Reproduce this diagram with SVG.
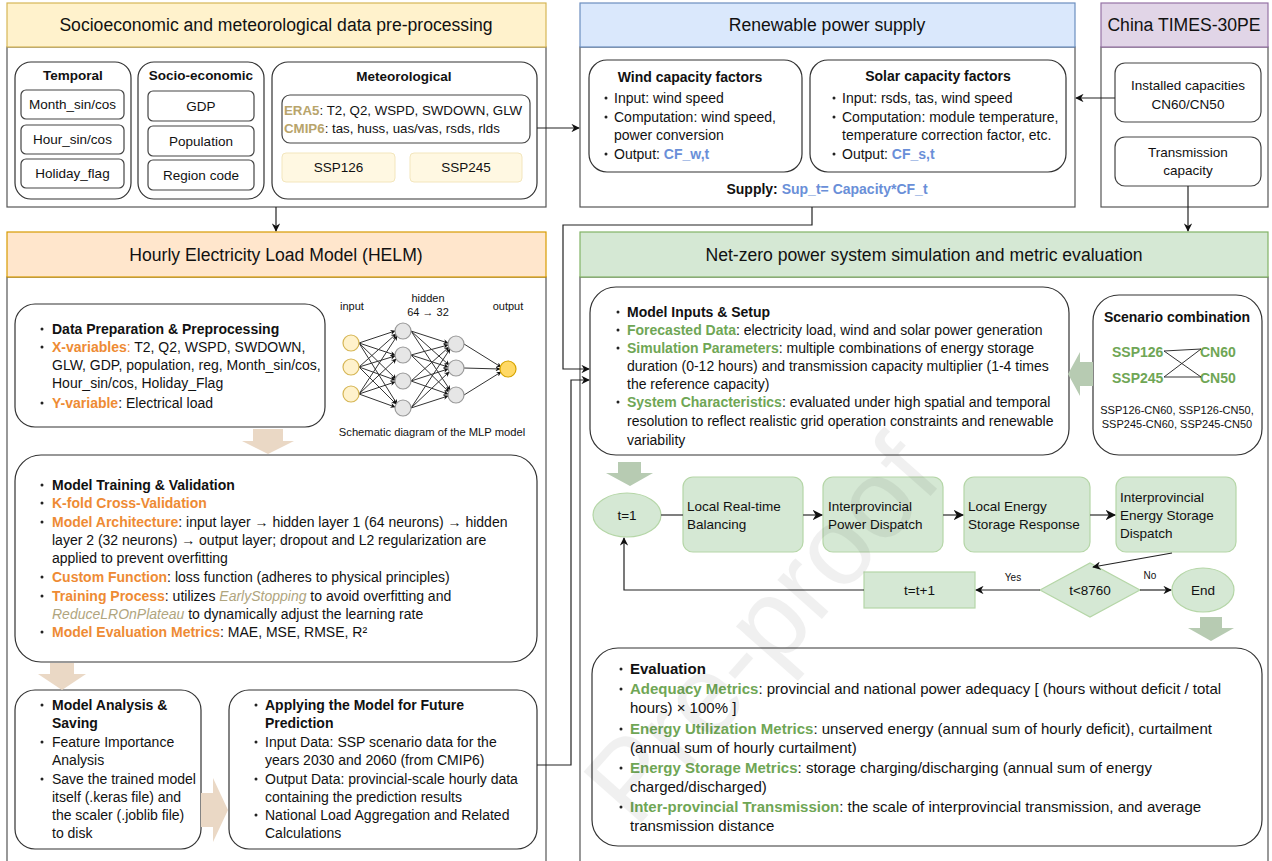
<svg xmlns="http://www.w3.org/2000/svg" width="1272" height="861" viewBox="0 0 1272 861">
<style>
text{font-family:"Liberation Sans",Arial,Helvetica,sans-serif;fill:#111}
.hd{font-size:17.6px;text-anchor:middle}
.t{font-size:13.5px}
.th{font-size:14px}
.ts{font-size:14px}
.te{font-size:15px}
.c{text-anchor:middle}
.b{font-weight:bold}
.box{fill:#fff;stroke:#444;stroke-width:1.2}
.body{fill:#fff;stroke:#555;stroke-width:1.2}
.rbox{fill:#fff;stroke:#333;stroke-width:1.2}
.fl{fill:#d5e8d4;stroke:#b5d6a7;stroke-width:1.2}
.ln{fill:none;stroke:#222;stroke-width:1.2}
.gl{fill:none;stroke:#555;stroke-width:1.5}
.or{fill:#ee8b34;font-weight:bold}
.ol{fill:#b8a46b;font-weight:bold}
.it{fill:#b0a57e;font-style:italic}
.gr{fill:#6fa655;font-weight:bold}
.bl{fill:#6a8fd8;font-weight:bold}
.dot{fill:#222}
.beige{fill:#ead8c5}
.garr{fill:#b7cbb2}
.mn{stroke:#333;stroke-width:1}
</style>
<defs>
<marker id="ah" viewBox="0 0 10 10" refX="9" refY="5" markerWidth="7" markerHeight="7" orient="auto"><path d="M0,0 L10,5 L0,10 L3,5 z" fill="#111"/></marker>
<marker id="sm" viewBox="0 0 10 10" refX="9" refY="5" markerWidth="5" markerHeight="5" orient="auto"><path d="M0,0 L10,5 L0,10 L3,5 z" fill="#111"/></marker>
</defs>

<!-- Panel 1 -->
<g id="panel-preproc">
<rect x="7" y="47" width="539" height="160" class="body"/>
<rect x="7" y="3" width="539" height="44" fill="#fff2cc" stroke="#d6b656" stroke-width="1.2"/>
<text x="276" y="31" class="hd">Socioeconomic and meteorological data pre-processing</text>
</g>
<g id="temporal">
<rect x="15" y="62" width="116" height="137" rx="16" class="rbox"/>
<text x="73" y="80" class="t b c">Temporal</text>
<rect x="21" y="90" width="103" height="29" rx="5" class="box"/>
<text x="72.5" y="109" class="t c">Month_sin/cos</text>
<rect x="21" y="125" width="103" height="29" rx="5" class="box"/>
<text x="72.5" y="144" class="t c">Hour_sin/cos</text>
<rect x="21" y="159" width="103" height="29" rx="5" class="box"/>
<text x="72.5" y="178" class="t c">Holiday_flag</text>
</g>
<g id="socioeconomic">
<rect x="138" y="62" width="126" height="137" rx="16" class="rbox"/>
<text x="201" y="80" class="t b c">Socio-economic</text>
<rect x="148" y="91" width="106" height="30" rx="5" class="box"/>
<text x="201" y="111" class="t c">GDP</text>
<rect x="148" y="126" width="106" height="30" rx="5" class="box"/>
<text x="201" y="146" class="t c">Population</text>
<rect x="148" y="160" width="106" height="30" rx="5" class="box"/>
<text x="201" y="180" class="t c">Region code</text>
</g>
<g id="meteorological">
<rect x="272" y="62" width="265" height="137" rx="16" class="rbox"/>
<text x="404" y="81" class="t b c">Meteorological</text>
<rect x="282" y="95" width="248" height="48" rx="8" class="box"/>
<text x="284" y="115" class="t" style="font-size:13.3px"><tspan class="ol">ERA5</tspan>: T2, Q2, WSPD, SWDOWN, GLW</text>
<text x="284" y="133" class="t" style="font-size:13.3px"><tspan class="ol">CMIP6</tspan>: tas, huss, uas/vas, rsds, rlds</text>
<rect x="282" y="153" width="113" height="29" rx="4" fill="#fff8e2" stroke="#f3e6bd" stroke-width="1"/>
<text x="338.5" y="172" class="t c">SSP126</text>
<rect x="410" y="153" width="112" height="29" rx="4" fill="#fff8e2" stroke="#f3e6bd" stroke-width="1"/>
<text x="466" y="172" class="t c">SSP245</text>
</g>

<!-- Panel 2 -->
<g id="panel-renewable">
<rect x="580" y="47" width="495" height="160" class="body"/>
<rect x="580" y="3" width="495" height="44" fill="#dae8fc" stroke="#6c8ebf" stroke-width="1.2"/>
<text x="827" y="31" class="hd">Renewable power supply</text>
<text x="827" y="194" class="th c b">Supply: <tspan class="bl">Sup_t= Capacity*CF_t</tspan></text>
</g>
<g id="wind">
<rect x="589" y="60" width="213" height="112" rx="18" class="rbox"/>
<text x="690" y="82" class="th b c">Wind capacity factors</text>
<circle cx="606" cy="98" r="1.5" class="dot"/><text x="614" y="103" class="th">Input: wind speed</text>
<circle cx="606" cy="117" r="1.5" class="dot"/><text x="614" y="122" class="th">Computation: wind speed,</text>
<text x="614" y="140" class="th">power conversion</text>
<circle cx="606" cy="154" r="1.5" class="dot"/><text x="614" y="159" class="th">Output: <tspan class="bl">CF_w,t</tspan></text>
</g>
<g id="solar">
<rect x="810" y="60" width="256" height="112" rx="18" class="rbox"/>
<text x="938" y="81" class="th b c">Solar capacity factors</text>
<circle cx="834" cy="98" r="1.5" class="dot"/><text x="842" y="103" class="th">Input: rsds, tas, wind speed</text>
<circle cx="834" cy="117" r="1.5" class="dot"/><text x="842" y="122" class="th">Computation: module temperature,</text>
<text x="842" y="140" class="th">temperature correction factor, etc.</text>
<circle cx="834" cy="154" r="1.5" class="dot"/><text x="842" y="159" class="th">Output: <tspan class="bl">CF_s,t</tspan></text>
</g>

<!-- Panel 3 -->
<g id="panel-times">
<rect x="1101" y="47" width="167" height="160" class="body"/>
<rect x="1101" y="3" width="167" height="44" fill="#e1d5e7" stroke="#9673a6" stroke-width="1.2"/>
<text x="1184" y="31" class="hd">China TIMES-30PE</text>
</g>
<g id="installed">
<rect x="1115" y="63" width="146" height="59" rx="10" class="box"/>
<text x="1188" y="90" class="t c">Installed capacities</text>
<text x="1188" y="109" class="t c">CN60/CN50</text>
</g>
<g id="transmission">
<rect x="1115" y="137" width="146" height="49" rx="10" class="box"/>
<text x="1188" y="157" class="t c">Transmission</text>
<text x="1188" y="175" class="t c">capacity</text>
</g>

<!-- HELM -->
<g id="panel-helm">
<rect x="7" y="277" width="539" height="590" class="body"/>
<rect x="7" y="232" width="539" height="45" fill="#ffe6cc" stroke="#d79b00" stroke-width="1.2"/>
<text x="276" y="261" class="hd">Hourly Electricity Load Model (HELM)</text>
</g>
<g id="data-prep">
<rect x="15" y="304" width="310" height="123" rx="20" class="rbox"/>
<circle cx="42" cy="329" r="1.5" class="dot"/><text x="52" y="334" class="th b">Data Preparation &amp; Preprocessing</text>
<circle cx="42" cy="347" r="1.5" class="dot"/><text x="52" y="352" class="th"><tspan class="or">X-variables</tspan><tspan fill="#ee8b34">:</tspan> T2, Q2, WSPD, SWDOWN,</text>
<text x="52" y="370" class="th">GLW, GDP, population, reg, Month_sin/cos,</text>
<text x="52" y="388" class="th">Hour_sin/cos, Holiday_Flag</text>
<circle cx="42" cy="403" r="1.5" class="dot"/><text x="52" y="408" class="th"><tspan class="or">Y-variable</tspan>: Electrical load</text>
</g>
<g id="mlp">
<text x="352" y="310" class="c" style="font-size:11px">input</text>
<text x="428" y="302" class="c" style="font-size:11px">hidden</text>
<text x="428" y="316" class="c" style="font-size:11px">64 → 32</text>
<text x="508" y="310" class="c" style="font-size:11px">output</text>
<g class="mn" marker-end="url(#sm)">
<line x1="359" y1="343" x2="395" y2="331"/><line x1="359" y1="343" x2="395" y2="355"/><line x1="359" y1="343" x2="396" y2="379"/><line x1="359" y1="343" x2="397" y2="404"/>
<line x1="359" y1="367" x2="396" y2="334"/><line x1="359" y1="367" x2="395" y2="356"/><line x1="359" y1="367" x2="395" y2="380"/><line x1="359" y1="367" x2="396" y2="404"/>
<line x1="359" y1="394" x2="397" y2="336"/><line x1="359" y1="394" x2="396" y2="359"/><line x1="359" y1="394" x2="395" y2="382"/><line x1="359" y1="394" x2="395" y2="407"/>
<line x1="411" y1="331" x2="448" y2="343"/><line x1="411" y1="331" x2="449" y2="365"/><line x1="411" y1="331" x2="450" y2="390"/>
<line x1="411" y1="355" x2="448" y2="345"/><line x1="411" y1="355" x2="448" y2="367"/><line x1="411" y1="355" x2="449" y2="392"/>
<line x1="411" y1="381" x2="449" y2="347"/><line x1="411" y1="381" x2="448" y2="369"/><line x1="411" y1="381" x2="448" y2="394"/>
<line x1="411" y1="408" x2="450" y2="349"/><line x1="411" y1="408" x2="449" y2="372"/><line x1="411" y1="408" x2="448" y2="396"/>
<line x1="464" y1="344" x2="501" y2="367"/><line x1="464" y1="368" x2="500" y2="369"/><line x1="464" y1="395" x2="501" y2="372"/>
</g>
<g fill="#fff2cc" stroke="#d6b656" stroke-width="1.2">
<circle cx="351" cy="343" r="8"/><circle cx="351" cy="367" r="8"/><circle cx="351" cy="394" r="8"/>
</g>
<g fill="#e6e6e6" stroke="#9a9a9a" stroke-width="1.2">
<circle cx="403" cy="331" r="8"/><circle cx="403" cy="355" r="8"/><circle cx="403" cy="381" r="8"/><circle cx="403" cy="408" r="8"/>
<circle cx="456" cy="344" r="8"/><circle cx="456" cy="368" r="8"/><circle cx="456" cy="395" r="8"/>
</g>
<circle cx="508" cy="369" r="8" fill="#ffd966" stroke="#d6a400" stroke-width="1.2"/>
<text x="432" y="436" class="c" style="font-size:11.2px">Schematic diagram of the MLP model</text>
</g>
<g id="training">
<rect x="15" y="455" width="522" height="207" rx="26" class="rbox"/>
<circle cx="42" cy="485" r="1.5" class="dot"/><text x="52" y="490" class="th b">Model Training &amp; Validation</text>
<circle cx="42" cy="503" r="1.5" class="dot"/><text x="52" y="508" class="th or">K-fold Cross-Validation</text>
<circle cx="42" cy="522" r="1.5" class="dot"/><text x="52" y="527" class="th"><tspan class="or">Model Architecture</tspan>: input layer → hidden layer 1 (64 neurons) → hidden</text>
<text x="52" y="545" class="th">layer 2 (32 neurons) → output layer; dropout and L2 regularization are</text>
<text x="52" y="563" class="th">applied to prevent overfitting</text>
<circle cx="42" cy="577" r="1.5" class="dot"/><text x="52" y="582" class="th"><tspan class="or">Custom Function</tspan>: loss function (adheres to physical principles)</text>
<circle cx="42" cy="596" r="1.5" class="dot"/><text x="52" y="601" class="th"><tspan class="or">Training Process</tspan>: utilizes <tspan class="it">EarlyStopping</tspan> to avoid overfitting and</text>
<text x="52" y="619" class="th"><tspan class="it">ReduceLROnPlateau</tspan> to dynamically adjust the learning rate</text>
<circle cx="42" cy="632" r="1.5" class="dot"/><text x="52" y="637" class="th"><tspan class="or">Model Evaluation Metrics</tspan>: MAE, MSE, RMSE, R²</text>
</g>
<g id="analysis">
<rect x="15" y="690" width="186" height="159" rx="20" class="rbox"/>
<circle cx="42" cy="705" r="1.5" class="dot"/><text x="52" y="710" class="th b">Model Analysis &amp;</text>
<text x="52" y="728" class="th b">Saving</text>
<circle cx="42" cy="742" r="1.5" class="dot"/><text x="52" y="747" class="th">Feature Importance</text>
<text x="52" y="765" class="th">Analysis</text>
<circle cx="42" cy="779" r="1.5" class="dot"/><text x="52" y="784" class="th">Save the trained model</text>
<text x="52" y="802" class="th">itself (.keras file) and</text>
<text x="52" y="820" class="th">the scaler (.joblib file)</text>
<text x="52" y="838" class="th">to disk</text>
</g>
<g id="applying">
<rect x="229" y="690" width="308" height="159" rx="20" class="rbox"/>
<circle cx="256" cy="705" r="1.5" class="dot"/><text x="265" y="710" class="th b">Applying the Model for Future</text>
<text x="265" y="728" class="th b">Prediction</text>
<circle cx="256" cy="742" r="1.5" class="dot"/><text x="265" y="747" class="th">Input Data: SSP scenario data for the</text>
<text x="265" y="765" class="th">years 2030 and 2060 (from CMIP6)</text>
<circle cx="256" cy="779" r="1.5" class="dot"/><text x="265" y="784" class="th">Output Data: provincial-scale hourly data</text>
<text x="265" y="802" class="th">containing the prediction results</text>
<circle cx="256" cy="815" r="1.5" class="dot"/><text x="265" y="820" class="th">National Load Aggregation and Related</text>
<text x="265" y="838" class="th">Calculations</text>
</g>
<g id="helm-arrows">
<path class="beige" d="M253,429 H283 V441 H294 L268,454 L242,441 H253 Z"/>
<path class="beige" d="M50,663 H74 V674 H86 L62,690 L38,674 H50 Z"/>
<path class="beige" d="M201,793 H213 V778 L228,810 L213,842 V827 H201 Z"/>
</g>

<!-- Net-zero -->
<g id="panel-netzero">
<rect x="580" y="277" width="688" height="590" class="body"/>
<rect x="580" y="232" width="688" height="45" fill="#d5e8d4" stroke="#82b366" stroke-width="1.2"/>
<text x="924" y="261" class="hd">Net-zero power system simulation and metric evaluation</text>
</g>
<g id="model-inputs">
<rect x="590" y="287" width="479" height="168" rx="26" class="rbox"/>
<circle cx="618" cy="312" r="1.5" class="dot"/><text x="627" y="317" class="ts b">Model Inputs &amp; Setup</text>
<circle cx="618" cy="330" r="1.5" class="dot"/><text x="627" y="335" class="ts"><tspan class="gr">Forecasted Data</tspan>: electricity load, wind and solar power generation</text>
<circle cx="618" cy="348" r="1.5" class="dot"/><text x="627" y="353" class="ts"><tspan class="gr">Simulation Parameters</tspan>:  multiple combinations of energy storage</text>
<text x="627" y="371" class="ts">duration (0-12 hours) and transmission capacity multiplier (1-4 times</text>
<text x="627" y="389" class="ts">the reference capacity)</text>
<circle cx="618" cy="402" r="1.5" class="dot"/><text x="627" y="407" class="ts"><tspan class="gr">System Characteristics</tspan>: evaluated under high spatial and temporal</text>
<text x="627" y="426" class="ts">resolution to reflect realistic grid operation constraints and renewable</text>
<text x="627" y="445" class="ts">variability</text>
</g>
<g id="scenario">
<rect x="1093" y="295" width="169" height="160" rx="26" class="rbox"/>
<text x="1177" y="322" class="c b" style="font-size:14px">Scenario combination</text>
<text x="1112" y="357" class="gr" style="font-size:14px">SSP126</text>
<text x="1200" y="357" class="gr" style="font-size:14px">CN60</text>
<text x="1112" y="383" class="gr" style="font-size:14px">SSP245</text>
<text x="1200" y="383" class="gr" style="font-size:14px">CN50</text>
<path d="M1164,351 L1201,349 L1164,377 L1201,377 Z" fill="none" stroke="#333" stroke-width="1"/>
<text x="1177" y="414" class="c" style="font-size:11px">SSP126-CN60, SSP126-CN50,</text>
<text x="1177" y="428" class="c" style="font-size:11px">SSP245-CN60,  SSP245-CN50</text>
</g>
<g id="netzero-arrows">
<path class="garr" d="M1093,362 V386 H1080 V396 L1068,374 L1080,352 V362 Z"/>
<path class="garr" d="M618,462 H641 V473 H653 L630,486 L606,473 H618 Z"/>
<path class="garr" d="M1200,617 H1222 V628 H1234 L1211,641 L1188,628 H1200 Z"/>
</g>
<g id="t1"><ellipse cx="627" cy="515" rx="34" ry="22" class="fl"/><text x="627" y="520" class="t c">t=1</text></g>
<g id="local-balancing"><rect x="683" y="477" width="120" height="75" rx="10" class="fl"/><text x="687" y="511" class="t">Local Real-time</text><text x="687" y="529" class="t">Balancing</text></g>
<g id="power-dispatch"><rect x="823" y="477" width="120" height="75" rx="10" class="fl"/><text x="828" y="511" class="t">Interprovincial</text><text x="828" y="529" class="t">Power Dispatch</text></g>
<g id="storage-response"><rect x="964" y="477" width="126" height="75" rx="10" class="fl"/><text x="968" y="511" class="t">Local Energy</text><text x="968" y="529" class="t">Storage Response</text></g>
<g id="storage-dispatch"><rect x="1116" y="477" width="120" height="75" rx="10" class="fl"/><text x="1120" y="502" class="t">Interprovincial</text><text x="1120" y="520" class="t">Energy Storage</text><text x="1120" y="538" class="t">Dispatch</text></g>
<g id="decision"><path d="M1040,590 L1090,563 L1140,590 L1090,617 Z" class="fl"/><text x="1090" y="595" class="t c">t&lt;8760</text></g>
<g id="increment"><rect x="864" y="572" width="111" height="36" class="fl"/><text x="919.5" y="595" class="t c">t=t+1</text></g>
<g id="end"><ellipse cx="1203" cy="590" rx="31" ry="22" class="fl"/><text x="1203" y="595" class="t c">End</text></g>
<g id="evaluation">
<rect x="592" y="648" width="670" height="198" rx="26" class="rbox"/>
<circle cx="621" cy="669" r="1.5" class="dot"/><text x="630" y="674" class="te b">Evaluation</text>
<circle cx="621" cy="689" r="1.5" class="dot"/><text x="630" y="694" class="te"><tspan class="gr">Adequacy Metrics</tspan>: provincial and national power adequacy [ (hours without deficit / total</text>
<text x="630" y="713" class="te">hours) × 100% ]</text>
<circle cx="621" cy="729" r="1.5" class="dot"/><text x="630" y="734" class="te"><tspan class="gr">Energy Utilization Metrics</tspan>:  unserved energy (annual sum of hourly deficit), curtailment</text>
<text x="630" y="753" class="te">(annual sum of hourly curtailment)</text>
<circle cx="621" cy="768" r="1.5" class="dot"/><text x="630" y="773" class="te"><tspan class="gr">Energy Storage Metrics</tspan>: storage charging/discharging (annual sum of energy</text>
<text x="630" y="792" class="te">charged/discharged)</text>
<circle cx="621" cy="807" r="1.5" class="dot"/><text x="630" y="812" class="te"><tspan class="gr">Inter-provincial Transmission</tspan>: the scale of interprovincial transmission, and average</text>
<text x="630" y="831" class="te">transmission distance</text>
</g>

<!-- Connectors -->
<g id="connectors">
<path class="ln" d="M537,128 H579" marker-end="url(#ah)"/>
<path class="ln" d="M1115,98 H1076" marker-end="url(#ah)"/>
<path class="ln" d="M276,207 V231" marker-end="url(#ah)"/>
<path class="ln" d="M1188,186 V231" marker-end="url(#ah)"/>
<path class="ln" d="M812,207 V225 H563 V369 H589" marker-end="url(#ah)"/>
<path class="ln" d="M537,765 H571 V380 H589" marker-end="url(#ah)"/>
<path class="gl" d="M661,515 H683"/>
<path class="gl" d="M803,515 H822" marker-end="url(#ah)"/>
<path class="gl" d="M943,515 H963" marker-end="url(#ah)"/>
<path class="gl" d="M1090,515 H1115" marker-end="url(#ah)"/>
<path class="ln" d="M1172,553 L1093,567" marker-end="url(#ah)"/>
<path class="ln" d="M1040,590 H976" marker-end="url(#ah)"/>
<path class="ln" d="M1140,590 H1171" marker-end="url(#ah)"/>
<path class="ln" d="M864,590 H624 V538" marker-end="url(#ah)"/>
<text x="1013" y="581" class="c" style="font-size:10px">Yes</text>
<text x="1150" y="579" class="c" style="font-size:10px">No</text>
</g>

<text x="790" y="655" transform="rotate(-48.5 790 655)" text-anchor="middle" style="font-size:112px;fill:#000;opacity:0.055">Pre-proof</text>
</svg>
